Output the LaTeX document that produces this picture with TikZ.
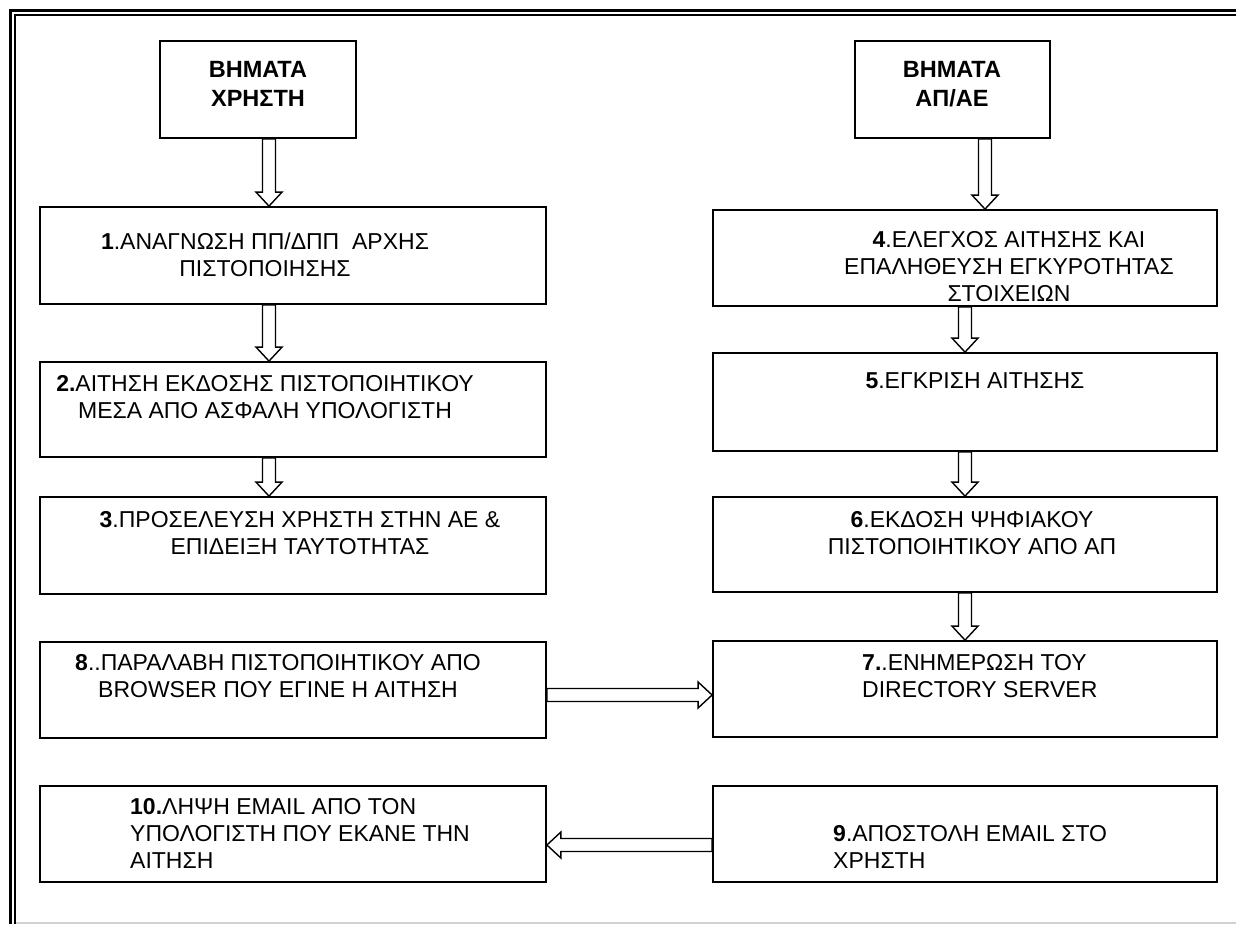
\documentclass[tikz,border=0pt]{standalone}
\usepackage{fontspec}
\setmainfont{Liberation Sans}
\usetikzlibrary{calc}

% hollow block arrow from #1 to #2
\newcommand\blockarrow[2]{%
  \draw[arrowline] let \p1=(#1), \p2=(#2), \p3=($(\p2)!14pt!(\p1)$) in
    ($(\p1)!6.5pt!90:(\p2)$) -- ($(\p3)!6.5pt!-90:(\p1)$) -- ($(\p3)!13pt!-90:(\p1)$)
    -- (\p2) -- ($(\p3)!13pt!90:(\p1)$) -- ($(\p3)!6.5pt!90:(\p1)$)
    -- ($(\p1)!6.5pt!-90:(\p2)$) -- cycle;}

\tikzset{
  box/.style={draw, line width=1.8pt, inner sep=0pt, fill=white},
  txt/.style={inner sep=0pt, align=center, font=\fontsize{23}{27}\selectfont},
  txtl/.style={txt, align=left, anchor=west},
  head/.style={inner sep=0pt, align=center, font=\fontsize{23.5}{29}\selectfont\bfseries},
  arrowline/.style={draw, line width=1.4pt, fill=white, line join=miter},
}

\begin{document}
\begin{tikzpicture}[x=1pt,y=-1pt]
\useasboundingbox (0,0) rectangle (1236,924);
\fill[white] (0,0) rectangle (1236,924);

% page frame
\draw[line width=3pt] (10.5,924) -- (10.5,10.5) -- (1236,10.5);
\draw[line width=2pt] (15,924) -- (15,15) -- (1236,15);
\draw[line width=2pt, black!18] (16,923) -- (1236,923);

% headers
\node[box, minimum width=196, minimum height=97] (h1) at (258,89.5) {};
\node[box, minimum width=195, minimum height=97] (h2) at (952.5,89.5) {};
\node[head] (th1) at (258,84) {ΒΗΜΑΤΑ\\ΧΡΗΣΤΗ};
\node[head] (th2) at (952,84) {ΒΗΜΑΤΑ\\ΑΠ/ΑΕ};

% user steps
\node[box, minimum width=506, minimum height=97] (b1) at (293,255.5) {};
\node[box, minimum width=506, minimum height=95] (b2) at (293,409.5) {};
\node[box, minimum width=506, minimum height=97] (b3) at (293,545.5) {};
\node[box, minimum width=506, minimum height=96] (b8) at (293,690) {};
\node[box, minimum width=506, minimum height=96] (b10) at (293,834) {};

% RA / CA steps
\node[box, minimum width=504, minimum height=96] (b4) at (965,258) {};
\node[box, minimum width=504, minimum height=98] (b5) at (965,402) {};
\node[box, minimum width=504, minimum height=95] (b6) at (965,544.5) {};
\node[box, minimum width=504, minimum height=96] (b7) at (965,689) {};
\node[box, minimum width=504, minimum height=96] (b9) at (965,834) {};

% texts
\node[txt] (t1) at (265,254.5) {\textbf{1}.ΑΝΑΓΝΩΣΗ ΠΠ/ΔΠΠ\ \ ΑΡΧΗΣ\\ΠΙΣΤΟΠΟΙΗΣΗΣ};
\node[txt] (t2) at (265,397.5) {\textbf{2.}ΑΙΤΗΣΗ ΕΚΔΟΣΗΣ ΠΙΣΤΟΠΟΙΗΤΙΚΟΥ\\ΜΕΣΑ ΑΠΟ ΑΣΦΑΛΗ ΥΠΟΛΟΓΙΣΤΗ};
\node[txt] (t3) at (300,533) {\textbf{3}.ΠΡΟΣΕΛΕΥΣΗ ΧΡΗΣΤΗ ΣΤΗΝ ΑΕ \&\\ΕΠΙΔΕΙΞΗ ΤΑΥΤΟΤΗΤΑΣ};
\node[txt] (t8) at (278,676.5) {\textbf{8}..ΠΑΡΑΛΑΒΗ ΠΙΣΤΟΠΟΙΗΤΙΚΟΥ ΑΠΟ\\BROWSER ΠΟΥ ΕΓΙΝΕ Η ΑΙΤΗΣΗ};
\node[txtl] (t10) at (130,833.5) {\textbf{10.}ΛΗΨΗ EMAIL ΑΠΟ ΤΟΝ\\ΥΠΟΛΟΓΙΣΤΗ ΠΟΥ ΕΚΑΝΕ ΤΗΝ\\ΑΙΤΗΣΗ};
\node[txt] (t4) at (1009,266.5) {\textbf{4}.ΕΛΕΓΧΟΣ ΑΙΤΗΣΗΣ ΚΑΙ\\ΕΠΑΛΗΘΕΥΣΗ ΕΓΚΥΡΟΤΗΤΑΣ\\ΣΤΟΙΧΕΙΩΝ};
\node[txt] (t5) at (975,381) {\textbf{5}.ΕΓΚΡΙΣΗ ΑΙΤΗΣΗΣ};
\node[txt] (t6) at (972,533) {\textbf{6}.ΕΚΔΟΣΗ ΨΗΦΙΑΚΟΥ\\ΠΙΣΤΟΠΟΙΗΤΙΚΟΥ ΑΠΟ ΑΠ};
\node[txtl] (t7) at (862,676.5) {\textbf{7.}.ΕΝΗΜΕΡΩΣΗ ΤΟΥ\\DIRECTORY SERVER};
\node[txtl] (t9) at (833,847) {\textbf{9}.ΑΠΟΣΤΟΛΗ EMAIL ΣΤΟ\\ΧΡΗΣΤΗ};

% arrow axes
\coordinate (lc) at (269,0);
\coordinate (rc) at (965,0);
\coordinate (hc) at (985,0);
\coordinate (r1) at (0,695);
\coordinate (r2) at (0,845);

% connectors
\blockarrow{lc |- h1.south}{lc |- b1.north}
\blockarrow{lc |- b1.south}{lc |- b2.north}
\blockarrow{lc |- b2.south}{lc |- b3.north}
\blockarrow{hc |- h2.south}{hc |- b4.north}
\blockarrow{rc |- b4.south}{rc |- b5.north}
\blockarrow{rc |- b5.south}{rc |- b6.north}
\blockarrow{rc |- b6.south}{rc |- b7.north}
\blockarrow{b8.east |- r1}{b7.west |- r1}
\blockarrow{b9.west |- r2}{b10.east |- r2}
\end{tikzpicture}
\end{document}
